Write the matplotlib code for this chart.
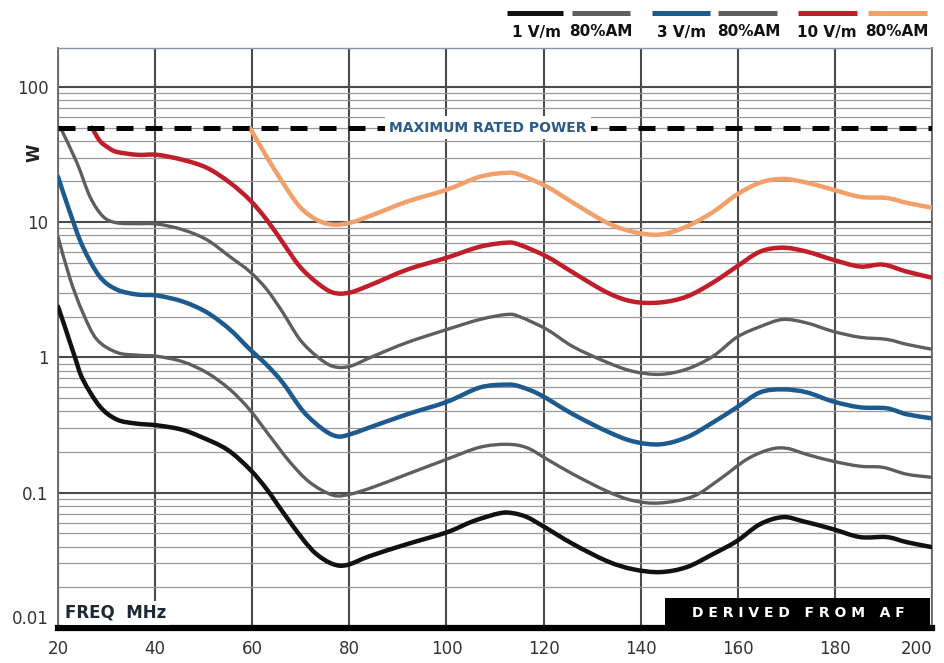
import matplotlib
matplotlib.use('Agg')
import numpy as np
import matplotlib.pyplot as plt
from matplotlib.patches import Rectangle, PathPatch
from matplotlib.path import Path
from matplotlib.lines import Line2D
from matplotlib.ticker import FixedLocator, NullFormatter

# ---------------- data ----------------
max_rated_power = 50.0

f_black = [20, 21.5, 23.5, 25.1, 28.6, 32.1, 36, 40.4, 45.3, 49.2, 54.8, 59.5, 63.0, 66.3, 70.5, 73.3,
           76.6, 79.5, 84.2, 91.9, 100.1, 105.5, 111.0, 113.7, 116.6, 119.9, 126.1, 133.1, 138.4, 144.0,
           149.5, 154.9, 159.8, 164.6, 169.3, 173.4, 179.6, 185.2, 190.7, 194.8, 200]
v_black = [2.38, 1.65, 1.0, 0.69, 0.435, 0.348, 0.325, 0.315, 0.294, 0.261, 0.209, 0.149, 0.106, 0.072,
           0.045, 0.035, 0.0297, 0.0292, 0.034, 0.0417, 0.051, 0.0616, 0.0706, 0.0706, 0.066, 0.0566,
           0.0417, 0.0312, 0.0272, 0.0259, 0.0282, 0.0352, 0.0439, 0.0586, 0.066, 0.0616, 0.0538, 0.047,
           0.047, 0.0431, 0.0396]

f_gray1 = [20, 22.5, 25.1, 28.0, 32.1, 36.3, 40.4, 45.7, 50.7, 55.4, 59.5, 63.7, 67.8, 71.9, 76.6, 80.1,
           84.9, 91.9, 100.1, 106.9, 112.5, 116.6, 120.7, 126.1, 133.1, 138.4, 144.0, 150.8, 156.3,
           161.9, 166.6, 170.1, 174.2, 179.6, 185.2, 189.9, 194.8, 200]
v_gray1 = [7.8, 3.8, 2.15, 1.36, 1.09, 1.04, 1.02, 0.93, 0.77, 0.58, 0.41, 0.26, 0.168, 0.119, 0.096,
           0.0975, 0.110, 0.137, 0.177, 0.217, 0.228, 0.215, 0.177, 0.137, 0.1025, 0.0875, 0.084,
           0.094, 0.126, 0.177, 0.209, 0.213, 0.192, 0.171, 0.157, 0.154, 0.137, 0.130]

f_blue = [20, 22.5, 25.1, 28.6, 32.1, 36.3, 40.4, 45.7, 50.7, 55.4, 59.5, 63.0, 66.3, 70.5, 74.6, 77.5,
          80.1, 84.2, 91.9, 100.1, 106.9, 112.5, 115.1, 119.3, 126.1, 133.1, 138.4, 144.0, 149.5, 154.9,
          159.8, 164.6, 169.3, 174.2, 179.6, 185.2, 190.7, 194.8, 200]
v_blue = [21.7, 11.7, 6.6, 3.96, 3.18, 2.92, 2.87, 2.59, 2.15, 1.61, 1.15, 0.88, 0.65, 0.40, 0.294, 0.261,
          0.270, 0.304, 0.38, 0.47, 0.60, 0.63, 0.61, 0.53, 0.38, 0.284, 0.24, 0.228, 0.257, 0.331, 0.428,
          0.552, 0.581, 0.552, 0.473, 0.428, 0.421, 0.38, 0.355]

f_gray3 = [20.5, 23.9, 26.6, 29.3, 32.1, 36.3, 40.4, 45.7, 50.7, 55.4, 59.5, 63.0, 66.3, 69.8, 73.3, 76.6,
           80.1, 84.9, 91.9, 100.1, 106.9, 112.5, 115.1, 120.7, 126.1, 133.1, 138.4, 144.0, 149.5, 154.9,
           159.8, 164.6, 169.3, 174.2, 179.6, 185.2, 190.7, 194.8, 200]
v_gray3 = [50, 27.5, 15.4, 11.0, 9.9, 9.75, 9.7, 8.8, 7.4, 5.56, 4.31, 3.18, 2.15, 1.36, 1.02, 0.86, 0.86,
           1.02, 1.29, 1.61, 1.91, 2.08, 2.0, 1.61, 1.20, 0.92, 0.79, 0.75, 0.82, 1.02, 1.41, 1.69, 1.91,
           1.80, 1.56, 1.41, 1.36, 1.25, 1.15]

f_red = [27.0, 28.6, 30.4, 32.1, 36.3, 40.4, 45.7, 50.7, 55.4, 59.5, 63.0, 66.3, 69.8, 73.3, 76.6, 80.1,
         84.9, 91.9, 100.1, 106.9, 112.5, 115.1, 120.7, 126.1, 133.1, 138.4, 144.0, 149.5, 154.9, 159.8,
         164.6, 169.3, 174.2, 179.6, 185.2, 189.9, 194.8, 200]
v_red = [50, 40, 35.5, 33.1, 31.5, 31.5, 28.9, 25.2, 19.6, 14.6, 10.4, 7.06, 4.70, 3.58, 3.02, 3.02, 3.5,
         4.46, 5.47, 6.59, 7.06, 6.8, 5.56, 4.24, 3.02, 2.59, 2.55, 2.82, 3.58, 4.70, 6.06, 6.48, 6.06,
         5.28, 4.70, 4.86, 4.31, 3.89]

f_orange = [59.5, 63.0, 66.3, 69.8, 73.3, 76.6, 80.1, 84.5, 91.9, 100.1, 106.9, 112.5, 115.1, 120.7, 126.1,
            133.1, 138.4, 144.0, 149.5, 154.9, 159.8, 164.6, 169.3, 174.2, 179.6, 185.2, 190.7, 194.8, 200]
v_orange = [50, 30.4, 19.6, 13.0, 10.4, 9.6, 9.9, 11.2, 14.2, 17.4, 21.7, 23.2, 22.4, 18.3, 13.9, 9.9, 8.5,
            8.1, 9.3, 11.9, 16.0, 19.6, 20.9, 19.6, 17.4, 15.4, 15.1, 13.9, 12.8]

x_ticks = [20, 40, 60, 80, 100, 120, 140, 160, 180, 200]
y_ticks = [0.01, 0.1, 1, 10, 100]
y_tick_labels = ['0.01', '0.1', '1', '10', '100']

legend_labels = ['1 V/m', '80%AM', '3 V/m', '80%AM', '10 V/m', '80%AM']

# ---------------- styles ----------------
C_BLACK = '#111111'
C_GRAY = '#5e5e5e'
C_BLUE = '#1d5b8f'
C_RED = '#bf1e2a'
C_ORANGE = '#f2a06a'


def smooth_path(xs, ys):
    """Smooth Bezier path through the read points (Catmull-Rom in x / log10(y) space)."""
    pts = np.column_stack([np.asarray(xs, float), np.log10(np.asarray(ys, float))])
    verts = [pts[0]]
    codes = [Path.MOVETO]
    n = len(pts)
    for i in range(n - 1):
        p0 = pts[i - 1] if i > 0 else pts[i]
        p1 = pts[i]
        p2 = pts[i + 1]
        p3 = pts[i + 2] if i + 2 < n else pts[i + 1]
        c1 = p1 + (p2 - p0) / 6.0
        c2 = p2 - (p3 - p1) / 6.0
        verts += [c1, c2, p2]
        codes += [Path.CURVE4] * 3
    verts = np.array(verts)
    verts[:, 1] = 10 ** verts[:, 1]
    return Path(verts, codes)


W, H = 944, 663
fig = plt.figure(figsize=(W / 100, H / 100), dpi=100)
fig.patch.set_facecolor('white')
ax = fig.add_axes([58 / W, 35 / H, 874 / W, 580 / H])

ax.set_yscale('log')

# grid
ax.set_xticks(x_ticks, labels=[str(t) for t in x_ticks])
ax.set_yticks(y_ticks, labels=y_tick_labels)
minor = [m * 10.0 ** e for e in range(-2, 3) for m in range(2, 10)]
ax.yaxis.set_minor_locator(FixedLocator(minor))
ax.yaxis.set_minor_formatter(NullFormatter())
ax.grid(True, which='major', axis='x', color='#4a4a4a', lw=1.5, zorder=1)
ax.grid(True, which='major', axis='y', color='#4a4a4a', lw=1.5, zorder=1)
ax.grid(True, which='minor', axis='y', color='#9a9a9a', lw=0.9, zorder=1)
ax.set_axisbelow(True)

ax.tick_params(axis='both', which='both', length=0)
ax.tick_params(axis='x', pad=9, labelsize=12, labelcolor='#333333')
ax.tick_params(axis='y', pad=7, labelsize=12, labelcolor='#333333')
for lab in ax.get_yticklabels():
    if lab.get_text() == '0.01':
        lab.set_verticalalignment('bottom')
for lab in ax.get_xticklabels():
    if lab.get_text() == '200':
        lab.set_horizontalalignment('right')

for s in ['left', 'right']:
    ax.spines[s].set_color('#6a6a6a')
    ax.spines[s].set_linewidth(1.3)
ax.spines['top'].set_color('#8a93a0')
ax.spines['top'].set_linewidth(1.0)
ax.spines['bottom'].set_color('black')
ax.spines['bottom'].set_linewidth(4.5)

# curves
series = [
    (f_black, v_black, C_BLACK, 3.2),
    (f_gray1, v_gray1, C_GRAY, 2.4),
    (f_blue, v_blue, C_BLUE, 3.2),
    (f_gray3, v_gray3, C_GRAY, 2.4),
    (f_red, v_red, C_RED, 3.2),
    (f_orange, v_orange, C_ORANGE, 3.2),
]
for fx, vy, c, lw in series:
    ax.add_patch(PathPatch(smooth_path(fx, vy), facecolor='none', edgecolor=c, lw=lw,
                           capstyle='round', joinstyle='round', zorder=4))

ax.set_xlim(20, 200)
ax.set_ylim(0.01, 10 ** (2 + 39 / 135.5))

# maximum rated power
ax.axhline(max_rated_power, color='black', lw=3.6, dashes=(3.4, 2.4), dash_capstyle='butt', zorder=6)
ax.text(108.5, max_rated_power, 'MAXIMUM RATED POWER', ha='center', va='center', color='#2b5a88',
        fontsize=10, fontweight='bold', zorder=7,
        bbox=dict(facecolor='white', edgecolor='none', pad=3))

# y label
ax.text(-24 / 874, 0.82, 'W', transform=ax.transAxes, rotation=90, ha='center', va='center',
        fontsize=12, fontweight='bold', color='#222222')

# FREQ MHz
ax.text(7 / 874, 6 / 580, 'FREQ  MHz', transform=ax.transAxes, ha='left', va='bottom',
        fontsize=12, fontweight='bold', color='#1c2a38', zorder=7,
        bbox=dict(facecolor='white', edgecolor='none', pad=2))

# DERIVED FROM AF box
ax.add_patch(Rectangle(((665 - 58) / 874, 0), (930 - 665) / 874, 30 / 580, transform=ax.transAxes,
                       facecolor='black', edgecolor='none', zorder=8, clip_on=False))
ax.text((798 - 58) / 874, 15 / 580, 'D E R I V E D   F R O M   A F', transform=ax.transAxes,
        ha='center', va='center', color='white', fontsize=10, fontweight='bold', zorder=9)

# legend (top right)
colors = [C_BLACK, C_GRAY, C_BLUE, C_GRAY, C_RED, C_ORANGE]
line_x = [(507, 563), (572, 630), (652, 710), (718, 777), (798, 857), (868, 927)]
text_x = [537, 601, 682, 749, 827, 897]
for (x0, x1), c, tx, lab in zip(line_x, colors, text_x, legend_labels):
    fig.add_artist(Line2D([x0 / W, x1 / W], [1 - 13 / H, 1 - 13 / H], color=c, lw=3.6,
                          solid_capstyle='butt', transform=fig.transFigure))
    fig.text(tx / W, 1 - 32 / H, lab, ha='center', va='center', fontsize=11, fontweight='bold',
             color='#111111')

fig.savefig('out.png', dpi=100)
